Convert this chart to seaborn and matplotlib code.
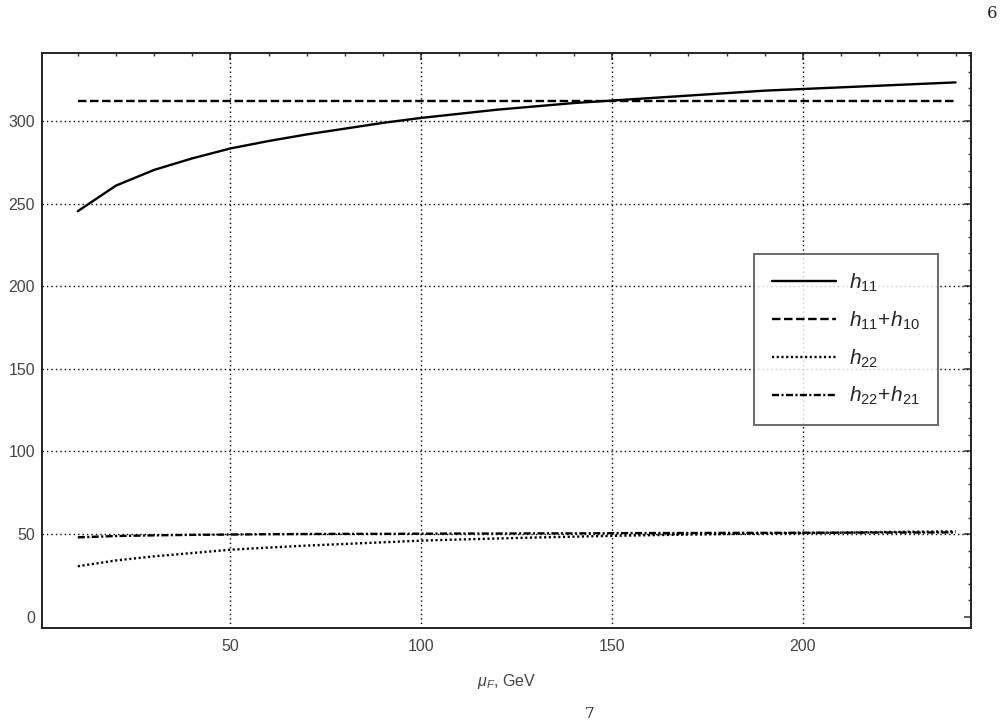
import pandas as pd
import seaborn as sns
import matplotlib.pyplot as plt
from matplotlib.ticker import MultipleLocator

# scale mu_F (GeV) and the four curves
mu_f = [10, 20, 30, 40, 50, 60, 70, 80, 90, 100, 110, 120,
        130, 140, 150, 160, 170, 180, 190, 200, 210, 220, 230, 240]
h11 = [245.5, 261.0, 270.5, 277.5, 283.5, 288.0, 292.0, 295.5, 299.0, 302.0, 304.5, 307.0,
       309.0, 311.0, 312.5, 314.0, 315.5, 317.0, 318.5, 319.5, 320.5, 321.5, 322.5, 323.5]
h11_h10 = [312.0, 312.0, 312.0, 312.0, 312.0, 312.0, 312.0, 312.0, 312.0, 312.0, 312.0, 312.0,
           312.0, 312.0, 312.0, 312.0, 312.0, 312.0, 312.0, 312.0, 312.0, 312.0, 312.0, 312.0]
h22 = [30.5, 34.0, 36.5, 38.5, 40.5, 41.8, 43.0, 44.0, 45.0, 46.0, 46.7, 47.3,
       47.9, 48.4, 48.9, 49.3, 49.7, 50.0, 50.3, 50.6, 50.9, 51.2, 51.4, 51.6]
h22_h21 = [48.0, 48.8, 49.2, 49.5, 49.7, 49.9, 50.0, 50.1, 50.1, 50.2, 50.3, 50.3,
           50.4, 50.4, 50.5, 50.6, 50.6, 50.7, 50.7, 50.8, 50.8, 50.9, 50.9, 51.0]

labels = ['$h_{11}$', '$h_{11}\\!+\\!h_{10}$', '$h_{22}$', '$h_{22}\\!+\\!h_{21}$']
x_ticks = [50, 100, 150, 200]
y_ticks = [0, 50, 100, 150, 200, 250, 300]

sns.set_style('white')
plt.rcParams['font.family'] = ['Liberation Sans', 'DejaVu Sans']
plt.rcParams['mathtext.fontset'] = 'custom'
plt.rcParams['mathtext.rm'] = 'Liberation Sans'
plt.rcParams['mathtext.it'] = 'Liberation Sans:italic'

df = pd.DataFrame({'mu': mu_f, 'h11': h11, 'h11_h10': h11_h10,
                   'h22': h22, 'h22_h21': h22_h21})

fig = plt.figure(figsize=(10.03, 7.22), dpi=100)
ax = fig.add_axes([0.0418, 0.1302, 0.9258, 0.7964])

styles = [
    ('h11', '-'),
    ('h11_h10', (0, (3.6, 1.5))),
    ('h22', (0, (0.9, 1.1))),
    ('h22_h21', (0, (3.0, 1.0, 0.9, 1.0))),
]
for (col, ls), lab in zip(styles, labels):
    sns.lineplot(data=df, x='mu', y=col, color='black', linestyle=ls,
                 linewidth=1.7, label=lab, ax=ax, zorder=3)

# dotted grid at the major ticks (none at y = 0)
for xv in x_ticks:
    ax.axvline(xv, color='black', lw=1.0, ls=(0, (1, 2.2)), zorder=1)
for yv in y_ticks[1:]:
    ax.axhline(yv, color='black', lw=1.0, ls=(0, (1, 2.2)), zorder=1)

ax.set_xlim(0.6, 243.9)
ax.set_ylim(-6.9, 341.3)
ax.set_xticks(x_ticks)
ax.set_yticks(y_ticks)
ax.xaxis.set_minor_locator(MultipleLocator(10))
ax.yaxis.set_minor_locator(MultipleLocator(10))
ax.tick_params(which='both', direction='in', top=True, right=True,
               color='#333333', labelcolor='#444444', labelsize=11.5)
ax.tick_params(which='major', length=5, width=1.1)
ax.tick_params(which='minor', length=2.5, width=1.0)
ax.tick_params(axis='x', pad=8)
ax.tick_params(axis='y', pad=5)
for s in ax.spines.values():
    s.set_color('#222222')
    s.set_linewidth(1.4)

ax.set_xlabel('$\\mu_F$, GeV', fontsize=11.5, color='#444444', labelpad=13)
ax.set_ylabel('')

leg = ax.legend(loc='upper left', bbox_to_anchor=(0.767, 0.651), fontsize=15,
                frameon=True, fancybox=False, edgecolor='#444444',
                handlelength=3.1, handletextpad=0.6, labelspacing=0.75,
                borderpad=0.85, borderaxespad=0)
leg.get_frame().set_linewidth(1.4)

fig.text(992 / 1003, 1 - 14 / 722, '6', family='DejaVu Serif', fontsize=12,
         ha='center', va='center')
fig.text(590 / 1003, 1 - 721 / 722, '7', family='DejaVu Serif', fontsize=11,
         ha='center', va='bottom')

fig.savefig('out.png', dpi=100)
